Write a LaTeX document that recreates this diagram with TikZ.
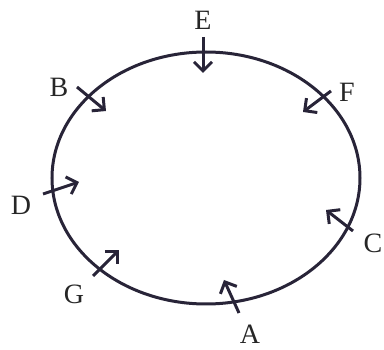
\documentclass[tikz,border=0pt]{standalone}
\usepackage{fontspec}
\setmainfont{Liberation Serif}
\usetikzlibrary{arrows.meta}
\definecolor{ink}{RGB}{40,36,56}
\begin{document}
\begin{tikzpicture}[x=1pt,y=-1pt,
  ring/.style={line width=3pt,draw=ink},
  flow/.style={line width=3pt,draw=ink,-{Straight Barb[length=9pt,width=18pt,line width=3pt]}},
  lbl/.style={font=\fontsize{28}{28}\selectfont,text=black!85,inner sep=0pt}]
\useasboundingbox (0,0) rectangle (384,350);
\draw[ring] (206,178) ellipse [x radius=154, y radius=126];
% E
\coordinate (e1) at (203,37); \coordinate (e2) at (203,73);
\draw[flow] (e1) -- (e2);
\node[lbl] (E) at (203,20) {E};
% B
\coordinate (b1) at (77,87); \coordinate (b2) at (106,111);
\draw[flow] (b1) -- (b2);
\node[lbl] (B) at (59,87) {B};
% F
\coordinate (f1) at (331,91); \coordinate (f2) at (303,112);
\draw[flow] (f1) -- (f2);
\node[lbl] (F) at (347,92) {F};
% D
\coordinate (d1) at (43,194); \coordinate (d2) at (79,182);
\draw[flow] (d1) -- (d2);
\node[lbl] (D) at (21,205) {D};
% C
\coordinate (c1) at (353,231); \coordinate (c2) at (326,210);
\draw[flow] (c1) -- (c2);
\node[lbl] (C) at (373,243) {C};
% G
\coordinate (g1) at (93,276); \coordinate (g2) at (119,250);
\draw[flow] (g1) -- (g2);
\node[lbl] (G) at (74,294) {G};
% A
\coordinate (a1) at (239,313); \coordinate (a2) at (224,280);
\draw[flow] (a1) -- (a2);
\node[lbl] (A) at (250,334) {A};
\end{tikzpicture}
\end{document}
